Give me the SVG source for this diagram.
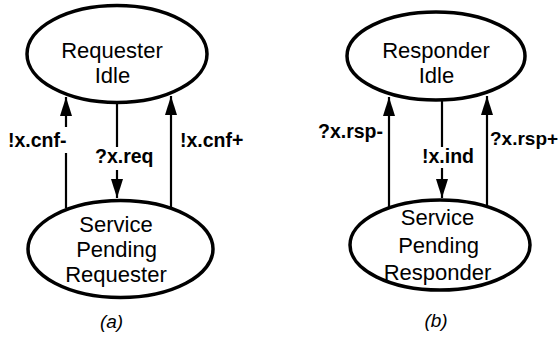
<svg xmlns="http://www.w3.org/2000/svg" width="560" height="338" viewBox="0 0 560 338">
<style>
.node{fill:#fff;stroke:#000;stroke-width:3.5}
.nt{font-family:"Liberation Sans",Arial,sans-serif;font-size:22px;fill:#000;text-anchor:middle}
.lb{font-family:"Liberation Sans",Arial,sans-serif;font-size:19.5px;font-weight:bold;fill:#000}
.cap{font-family:"Liberation Sans",Arial,sans-serif;font-size:19px;font-style:italic;fill:#000;text-anchor:middle}
.edge{fill:none;stroke:#000;stroke-width:2.2}
</style>
<defs>
<marker id="ah" markerUnits="userSpaceOnUse" markerWidth="20" markerHeight="13" refX="19" refY="6" orient="auto">
<path d="M0,0 L19,6 L0,12 z" fill="#000"/>
</marker>
</defs>
<rect width="560" height="338" fill="#fff"/>
<g id="req-idle">
<ellipse class="node" cx="117" cy="54" rx="90" ry="48.5"/>
<text class="nt" x="112" y="58">Requester</text>
<text class="nt" x="112.5" y="83">Idle</text>
</g>
<g id="req-pending">
<ellipse class="node" cx="120.5" cy="249" rx="92.5" ry="48.5"/>
<text class="nt" x="116" y="232">Service</text>
<text class="nt" x="116.5" y="257">Pending</text>
<text class="nt" x="116" y="282">Requester</text>
</g>
<g id="rsp-idle">
<ellipse class="node" cx="436" cy="56" rx="89" ry="44"/>
<text class="nt" x="436" y="58">Responder</text>
<text class="nt" x="436.5" y="83">Idle</text>
</g>
<g id="rsp-pending">
<ellipse class="node" cx="440" cy="245" rx="90" ry="45"/>
<text class="nt" x="437.5" y="225">Service</text>
<text class="nt" x="438.5" y="253">Pending</text>
<text class="nt" x="437.5" y="280">Responder</text>
</g>
<g id="connectors">
<path class="edge" d="M66,208 V153"/>
<path class="edge" d="M66,127 V97" marker-end="url(#ah)"/>
<path class="edge" d="M117,103 V147"/>
<path class="edge" d="M117,170 V198" marker-end="url(#ah)"/>
<path class="edge" d="M171,207 V96" marker-end="url(#ah)"/>
<path class="edge" d="M389,208 V97" marker-end="url(#ah)"/>
<path class="edge" d="M442,100 V147"/>
<path class="edge" d="M442,168 V198" marker-end="url(#ah)"/>
<path class="edge" d="M487,206 V96" marker-end="url(#ah)"/>
<text class="lb" x="8" y="147">!x.cnf-</text>
<text class="lb" x="95" y="163">?x.req</text>
<text class="lb" x="180" y="147">!x.cnf+</text>
<text class="lb" x="318" y="138">?x.rsp-</text>
<text class="lb" x="422" y="163">!x.ind</text>
<text class="lb" x="490" y="145" style="font-size:19px">?x.rsp+</text>
</g>
<text class="cap" x="111.5" y="328">(a)</text>
<text class="cap" x="436" y="327">(b)</text>
</svg>
